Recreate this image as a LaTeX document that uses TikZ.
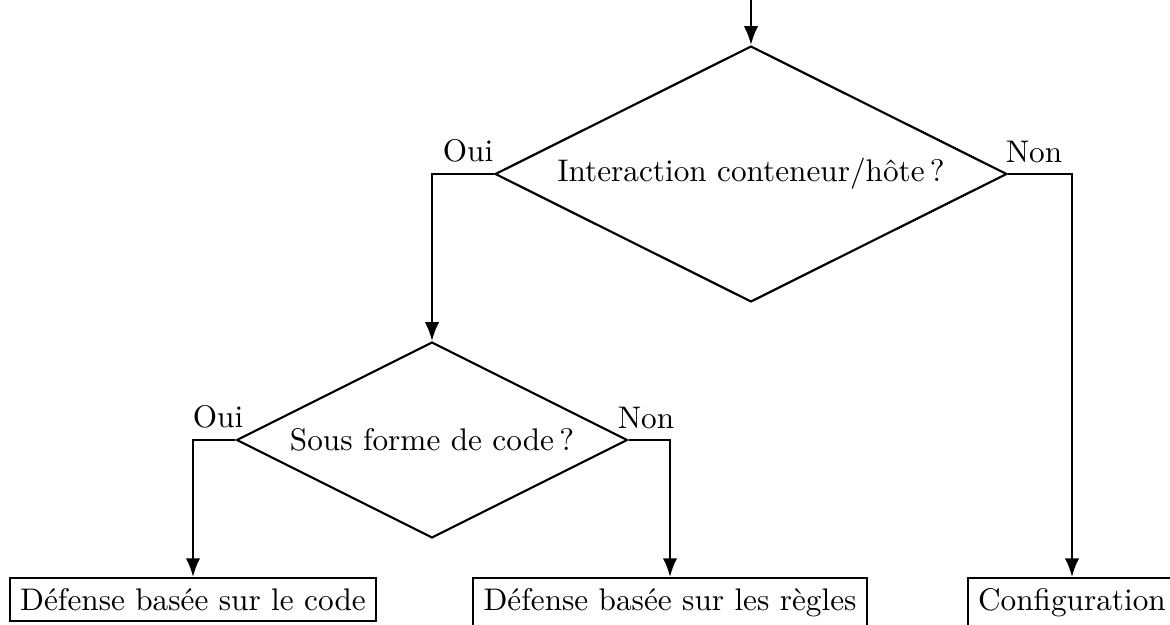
\documentclass[tikz,border=0pt]{standalone}
\usetikzlibrary{shapes.geometric,arrows.meta}
\begin{document}
\begin{tikzpicture}[x=0.32pt,y=-0.32pt,line width=0.7pt,
  bigdec/.style={diamond,draw,aspect=2,inner sep=0pt,minimum width=163.8pt,minimum height=81.9pt},
  smalldec/.style={diamond,draw,aspect=2,inner sep=0pt,minimum width=125.1pt,minimum height=62.7pt},
  outcome/.style={draw,rectangle,anchor=north},
  lbl/.style={above},
  arr/.style={-{Latex[length=6pt,width=4.6pt]}}]
\useasboundingbox (0,0) rectangle (1170,624);
\coordinate (start) at (751,0);
\node[bigdec] (d1) at (751,174) {Interaction conteneur/hôte\,?};
\node[smalldec] (d2) at (432,440) {Sous forme de code\,?};
\node[outcome] (b1) at (193,577) {Défense basée sur le code};
\node[outcome] (b2) at (670,577) {Défense basée sur les règles};
\node[outcome] (b3) at (1072,577) {Configuration};
\draw[arr] (start) -- (d1.north);
\draw[arr] (d1.west) -| (d2.north);
\draw[arr] (d1.east) -| (b3.north);
\draw[arr] (d2.west) -| (b1.north);
\draw[arr] (d2.east) -| (b2.north);
\node[lbl] (oui1) at (468,174) {Oui};
\node[lbl] (non1) at (1034,174) {Non};
\node[lbl] (oui2) at (218,440) {Oui};
\node[lbl] (non2) at (646,440) {Non};
\end{tikzpicture}
\end{document}
